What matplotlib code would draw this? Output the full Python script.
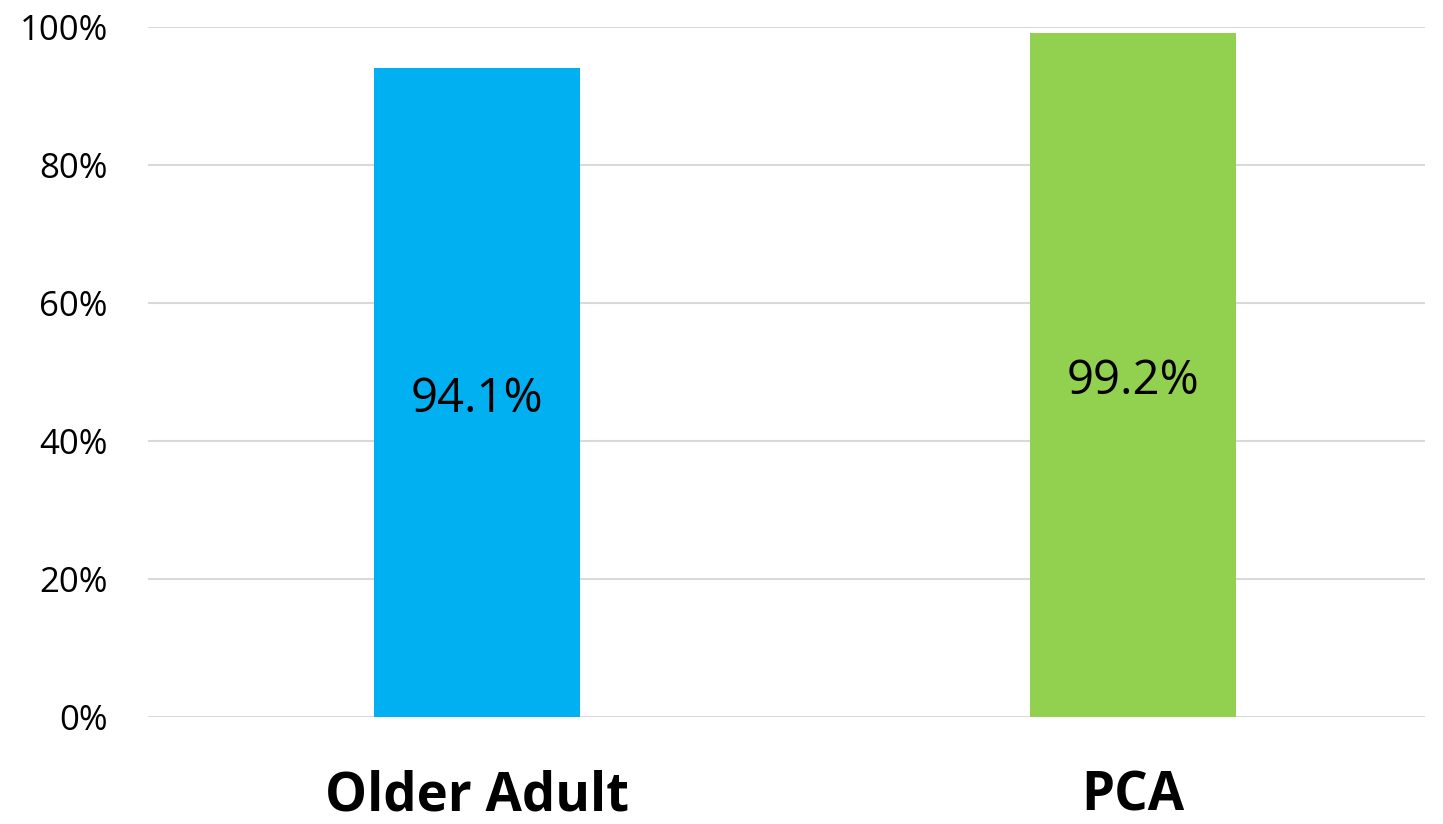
import matplotlib.pyplot as plt
from matplotlib.ticker import PercentFormatter

categories = ["Older Adult", "PCA"]
values = [0.941, 0.992]
labels = ["94.1%", "99.2%"]
colors = ["#00B0F0", "#92D050"]

plt.rcParams['font.family'] = ['Open Sans', 'DejaVu Sans']

fig = plt.figure(figsize=(14.43, 8.24), dpi=100)
ax = fig.add_axes([0.1026, 0.1299, 0.8849, 0.8373])

x = range(len(categories))
bars = ax.bar(x, values, width=0.314, color=colors, zorder=3)

for b, lab in zip(bars, labels):
    ax.text(b.get_x() + b.get_width() / 2, b.get_height() / 2 - 0.01, lab,
            ha='center', va='center', fontsize=34, color='black', zorder=4)

ax.set_xlim(-0.5015, 1.445)
ax.set_ylim(0, 1.0)
ax.set_yticks([0, 0.2, 0.4, 0.6, 0.8, 1.0])
ax.yaxis.set_major_formatter(PercentFormatter(1.0, decimals=0))
ax.set_xticks(list(x))
ax.set_xticklabels(categories, fontsize=38, fontweight='bold')
ax.tick_params(axis='y', labelsize=25, length=0, pad=29)
ax.tick_params(axis='x', length=0, pad=38)
for lbl in ax.get_yticklabels():
    lbl.set_horizontalalignment('right')

ax.grid(axis='y', color='#D9D9D9', linewidth=1.5, zorder=0)
for s in ax.spines.values():
    s.set_visible(False)

fig.savefig("out.png", dpi=100)
